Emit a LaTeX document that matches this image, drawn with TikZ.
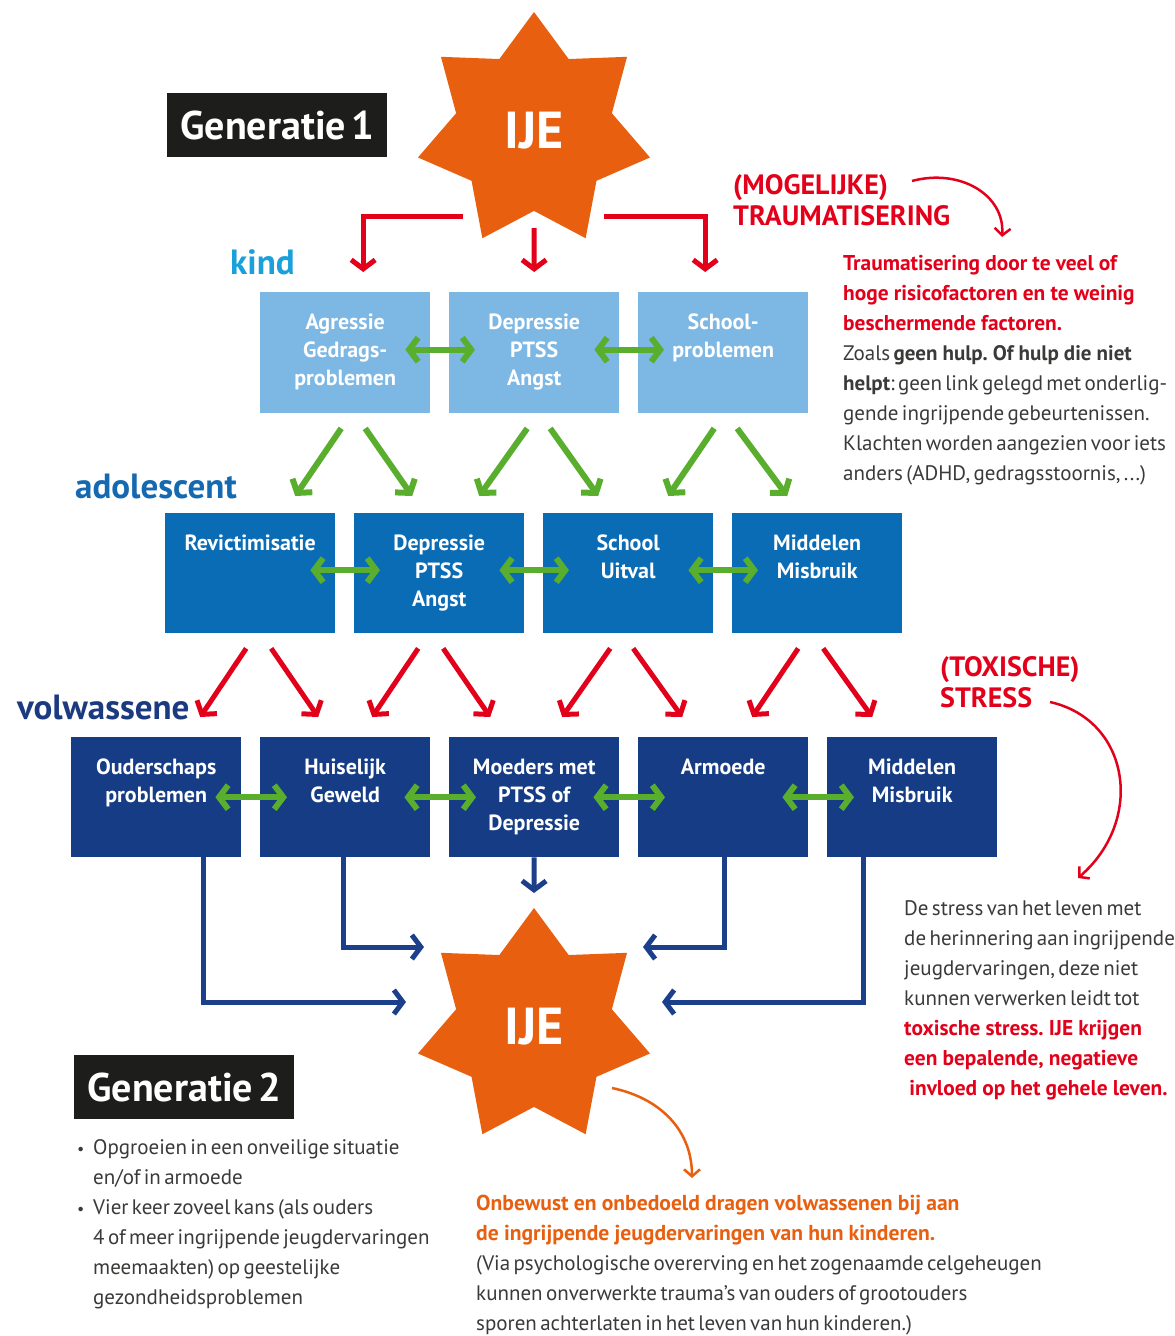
\documentclass[tikz,border=0pt]{standalone}
\usepackage{fontspec}
\setmainfont{PT Sans}[WordSpace=0.6,BoldFeatures={WordSpace=0.95}]
\usetikzlibrary{arrows.meta,shapes.geometric,positioning}
\frenchspacing

\definecolor{ijeorange}{HTML}{E8600F}
\definecolor{trred}{HTML}{E2001A}
\definecolor{kidblue}{HTML}{7DB7E3}
\definecolor{adoblue}{HTML}{0B6CB6}
\definecolor{adublue}{HTML}{153C84}
\definecolor{arrgreen}{HTML}{5AAE2E}
\definecolor{kindtxt}{HTML}{1BA0DB}
\definecolor{adotxt}{HTML}{1469B1}
\definecolor{adutxt}{HTML}{1B3A80}
\definecolor{navyline}{HTML}{1C3F8B}
\definecolor{genblack}{HTML}{1D1D1B}
\definecolor{bodytxt}{HTML}{3A3A39}

\newcommand{\redbold}[1]{\textcolor{trred}{\fontsize{21.4}{30}\selectfont\bfseries #1}}
\newcommand{\orbold}[1]{\textcolor{ijeorange}{\fontsize{21.6}{30}\selectfont\bfseries #1}}
\newcommand{\bulletdot}{\makebox[16pt][l]{\fontsize{16}{16}\selectfont\textbullet}}

\tikzset{
  stagebox/.style={minimum width=170pt,minimum height=121pt,inner sep=0pt,anchor=north west},
  boxtxt/.style={text=white,font=\bfseries\fontsize{22}{28}\selectfont,align=center,inner sep=0pt,anchor=north},
  ije/.style={star,star points=7,star point ratio=1.49,minimum size=238pt,inner sep=0pt,
    fill=ijeorange,text=white,font=\bfseries\fontsize{52}{52}\selectfont},
  genbox/.style={fill=genblack,text=white,minimum width=220pt,minimum height=64pt,inner sep=0pt,
    anchor=north west,font=\bfseries\fontsize{40}{40}\selectfont},
  agelbl/.style={anchor=base west,inner sep=0pt,font=\bfseries\fontsize{35}{35}\selectfont},
  bodytext/.style={anchor=north west,inner sep=0pt,align=left,text=bodytxt,font=\fontsize{21}{30}\selectfont},
  shout/.style={anchor=north west,inner sep=0pt,align=left,text=trred,font=\bfseries\fontsize{28}{31}\selectfont},
  barb/.style={-{Straight Barb[length=9pt,width=24pt]}},
  redline/.style={barb,line width=5pt,draw=trred},
  grnline/.style={barb,line width=6pt,draw=arrgreen},
  grnboth/.style={{Straight Barb[length=9pt,width=24pt]}-{Straight Barb[length=9pt,width=24pt]},line width=6pt,draw=arrgreen},
  navline/.style={barb,line width=5pt,draw=navyline},
  bendline/.style={-{Straight Barb[length=7pt,width=16pt]},line width=2.5pt}
}

\begin{document}
\begin{tikzpicture}[x=1pt,y=-1pt]
\fill[white] (0,0) rectangle (1175,1336);

% generatie 1
\node[genbox] (gen1) at (167,93) {Generatie\hspace{5pt}1};
\node[ije] (ije1) at (534,131) {IJE};

% age labels
\node[agelbl,text=kindtxt] (kind) at (230,274) {kind};
\node[agelbl,text=adotxt] (adol) at (75,498) {adolescent};
\node[agelbl,text=adutxt] (volw) at (17,719) {volwassene};

% boxes
\foreach \nm/\xx/\txt in {k1/260/{Agressie\\Gedrags-\\problemen},k2/449/{Depressie\\PTSS\\Angst},k3/638/{School-\\problemen}}{
  \node[stagebox,fill=kidblue] (\nm) at (\xx,292) {};
  \node[boxtxt] (\nm-t) at ([yshift=-22pt]\nm.north) {\txt};
}
\foreach \nm/\xx/\txt in {a1/165/{Revictimisatie},a2/354/{Depressie\\PTSS\\Angst},a3/543/{School\\Uitval},a4/732/{Middelen\\Misbruik}}{
  \node[stagebox,fill=adoblue,minimum height=120pt] (\nm) at (\xx,513) {};
  \node[boxtxt] (\nm-t) at ([yshift=-22pt]\nm.north) {\txt};
}
\foreach \nm/\xx/\txt in {v1/71/{Ouderschaps\\problemen},v2/260/{Huiselijk\\Geweld},v3/449/{Moeders met\\PTSS of\\Depressie},v4/638/{Armoede},v5/827/{Middelen\\Misbruik}}{
  \node[stagebox,fill=adublue,minimum height=120pt] (\nm) at (\xx,737) {};
  \node[boxtxt] (\nm-t) at ([yshift=-22pt]\nm.north) {\txt};
}

% red arrows out of the first star
\draw[redline] ([xshift=-71pt,yshift=-85pt]ije1.center) -| ([xshift=18pt,yshift=20pt]k1.north);
\draw[redline] ([yshift=-97pt]ije1.center) -- ([yshift=20pt]k2.north);
\draw[redline] ([xshift=70pt,yshift=-85pt]ije1.center) -| ([xshift=-18pt,yshift=20pt]k3.north);

% green links inside a row
\foreach \aa/\bb in {k1/k2,k2/k3}
  \draw[grnboth] ([xshift=-25pt,yshift=3pt]\aa.east) -- ([xshift=26pt,yshift=3pt]\bb.west);
\foreach \aa/\bb in {a1/a2,a2/a3,a3/a4}
  \draw[grnboth] ([xshift=-25pt,yshift=3pt]\aa.east) -- ([xshift=26pt,yshift=3pt]\bb.west);
\foreach \aa/\bb in {v1/v2,v2/v3,v3/v4,v4/v5}
  \draw[grnboth] ([xshift=-26pt]\aa.east) -- ([xshift=27pt]\bb.west);

% kind -> adolescent
\foreach \src/\sx/\dst/\dx in {k1/-4/a1/45,k1/20/a2/-27,k2/-7/a2/40,k2/16/a3/-30,k3/-9/a3/40,k3/14/a4/-30}
  \draw[grnline] ([xshift=\sx pt,yshift=-15pt]\src.south) -- ([xshift=\dx pt,yshift=17pt]\dst.north);

% adolescent -> volwassene
\foreach \src/\sx/\dst/\dx in {a1/-4/v1/44,a1/21/v2/-27,a2/-21/v2/27,a2/4/v3/-44,a3/-18/v3/28,a3/5/v4/-41,a4/-19/v4/29,a4/6/v5/-40}
  \draw[redline] ([xshift=\sx pt,yshift=-15pt]\src.south) -- ([xshift=\dx pt,yshift=20pt]\dst.north);

% generatie 2
\node[ije] (ije2) at (534,1027) {IJE};
\node[genbox] (gen2) at (74,1055) {Generatie\hspace{5pt}2};

\draw[navline] ([xshift=47pt]v1.south) |- ([xshift=-128pt,yshift=25pt]ije2.center);
\draw[navline] ([xshift=-2pt]v2.south) |- ([xshift=-110pt,yshift=80pt]ije2.center);
\draw[navline] (v3.south) -- ([yshift=134pt]ije2.center);
\draw[navline] ([xshift=1pt]v4.south) |- ([xshift=109pt,yshift=80pt]ije2.center);
\draw[navline] ([xshift=-49pt]v5.south) |- ([xshift=128pt,yshift=25pt]ije2.center);

% side notes
\node[shout] (mogl) at (733,174) {(MOGELIJKE)\\TRAUMATISERING};
\node[bodytext] (trtxt) at (843,255) {\redbold{Traumatisering door te veel of}\\
\redbold{hoge risicofactoren en te weinig}\\
\redbold{beschermende factoren.}\\
Zoals \textbf{geen hulp. Of hulp die niet}\\
\textbf{helpt}: geen link gelegd met onderlig-\\
gende ingrijpende gebeurtenissen.\\
Klachten worden aangezien voor iets\\
anders (ADHD, gedragsstoornis, ...)};
\coordinate (mogend) at (912,181);
\draw[bendline,trred] (mogend) .. controls (960,168) and (1005,195) .. ([xshift=159pt,yshift=18pt]trtxt.north west);

\node[shout] (toxl) at (940,656) {(TOXISCHE)\\STRESS};
\node[bodytext] (strtxt) at (904,900) {De stress van het leven met\\
de herinnering aan ingrijpende\\
jeugdervaringen, deze niet\\
kunnen verwerken leidt tot\\
\redbold{toxische stress. IJE krijgen}\\
\redbold{een bepalende, negatieve}\\
\redbold{\ invloed op het gehele leven.}};
\coordinate (toxend) at (1050,702);
\draw[bendline,trred] (toxend) .. controls (1130,720) and (1145,820) .. ([xshift=174pt,yshift=22pt]strtxt.north west);

\node[bodytext] (gen2txt) at (77,1139) {\bulletdot Opgroeien in een onveilige situatie\\
\hspace*{16pt}en/of in armoede\\
\bulletdot Vier keer zoveel kans (als ouders\\
\hspace*{16pt}4 of meer ingrijpende jeugdervaringen\\
\hspace*{16pt}meemaakten) op geestelijke\\
\hspace*{16pt}gezondheidsproblemen};

\node[bodytext] (ovtxt) at (476,1195) {\orbold{Onbewust en onbedoeld dragen volwassenen bij aan}\\
\orbold{de ingrijpende jeugdervaringen van hun kinderen.}\\
(Via psychologische overerving en het zogenaamde celgeheugen\\
kunnen onverwerkte trauma’s van ouders of grootouders\\
sporen achterlaten in het leven van hun kinderen.)};
\draw[bendline,ijeorange] ([xshift=78pt,yshift=-61pt]ije2.center) .. controls (660,1098) and (692,1130) .. ([xshift=216pt,yshift=17pt]ovtxt.north west);
\end{tikzpicture}
\end{document}
